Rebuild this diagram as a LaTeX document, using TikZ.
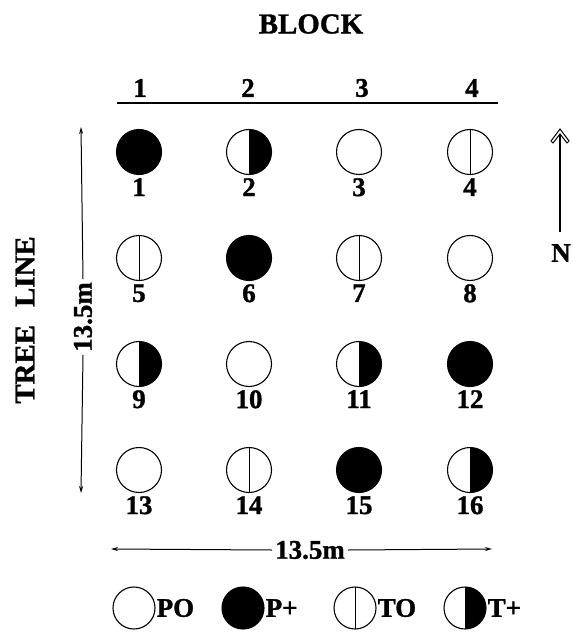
\documentclass[tikz,border=0pt]{standalone}
\usepackage{fontspec}
\setmainfont{Liberation Serif}[BoldFeatures={FakeBold=1.2}]
\usetikzlibrary{arrows.meta}
\tikzset{
  lab/.style={font=\fontsize{27}{27}\selectfont\bfseries, inner sep=0pt},
  big/.style={font=\fontsize{29}{29}\selectfont\bfseries, inner sep=0pt},
  tree/.style={circle, draw, line width=1.1bp, minimum size=45bp, inner sep=0pt},
  po/.style={tree},
  pp/.style={tree, fill=black},
  to/.style={tree, path picture={\draw[line width=1bp] (path picture bounding box.north) -- (path picture bounding box.south);}},
  tp/.style={tree, path picture={\fill (path picture bounding box.north) rectangle (path picture bounding box.south east);}},
  dimarrow/.style={line width=1bp, -{Stealth[length=7bp,width=4bp]}},
}
\begin{document}
\begin{tikzpicture}[x=1bp,y=-1bp]
\useasboundingbox (0,0) rectangle (573,634);
% title
\node[big] (title) at (311,24) {BLOCK};
% block numbers
\node[lab] (b1) at (140,88) {1};
\node[lab] (b2) at (248,88) {2};
\node[lab] (b3) at (362,88) {3};
\node[lab] (b4) at (472,88) {4};
\coordinate (hl) at (117,103);
\coordinate (hr) at (498,103);
\draw[line width=1.4bp] (hl) -- (hr);
% trees row 1
\node[pp] (t1) at (139,152) {};
\node[tp] (t2) at (249,152) {};
\node[po] (t3) at (359,152) {};
\node[to] (t4) at (470,152) {};
% row 2
\node[to] (t5) at (139,258) {};
\node[pp] (t6) at (249,258) {};
\node[to] (t7) at (359,258) {};
\node[po] (t8) at (470,258) {};
% row 3
\node[tp] (t9) at (139,364) {};
\node[po] (t10) at (249,364) {};
\node[tp] (t11) at (359,364) {};
\node[pp] (t12) at (470,364) {};
% row 4
\node[po] (t13) at (139,470) {};
\node[to] (t14) at (249,470) {};
\node[pp] (t15) at (359,470) {};
\node[tp] (t16) at (470,470) {};
% tree labels
\foreach \i in {1,...,16}{
  \node[lab, below=3bp] (l\i) at (t\i.south) {\i};
}
% left dimension
\node[lab, rotate=90, fill=white, inner sep=3bp] (ldim) at (83,317) {13.5m};
\coordinate (ltop) at (81,127);
\coordinate (lbot) at (81,493);
\draw[dimarrow] (ldim.east) -- (ltop);
\draw[dimarrow] (ldim.west) -- (lbot);
% tree line
\node[big, rotate=90] (treeline) at (25,320) {TREE\hspace{18bp}LINE};
% bottom dimension
\node[lab, inner sep=3bp] (bdim) at (310,550) {13.5m};
\coordinate (bl) at (111,549);
\coordinate (br) at (492,549);
\draw[dimarrow] (bdim.west) -- (bl);
\draw[dimarrow] (bdim.east) -- (br);
% north arrow
\coordinate (nbase) at (560,232);
\coordinate (ntip) at (560,134);
\draw[line width=1.2bp] (nbase) -- (ntip);
\draw[line width=1bp, fill=white] (551,141) -- (560,129) -- (569,141) -- (567,143) -- (560,134) -- (553,143) -- cycle;
\node[lab] (north) at (561,253) {N};
% legend
\node[po, minimum size=42bp] (kpo) at (134,608) {};
\node[lab, anchor=west, xshift=1bp] (kpot) at (kpo.east) {PO};
\node[pp, minimum size=42bp] (kpp) at (243,608) {};
\node[lab, anchor=west, xshift=1bp] (kppt) at (kpp.east) {P+};
\node[to, minimum size=42bp] (kto) at (355,608) {};
\node[lab, anchor=west, xshift=1bp] (ktot) at (kto.east) {TO};
\node[tp, minimum size=42bp] (ktp) at (465,608) {};
\node[lab, anchor=west, xshift=1bp] (ktpt) at (ktp.east) {T+};
\end{tikzpicture}
\end{document}
